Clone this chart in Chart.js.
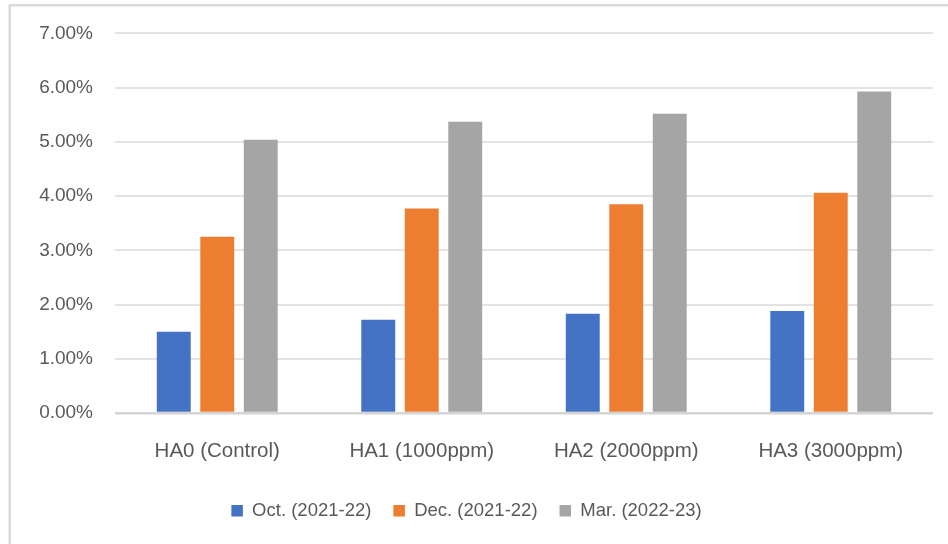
<!DOCTYPE html>
<html>
<head>
<meta charset="utf-8">
<script src="https://cdn.jsdelivr.net/npm/chart.js@4/dist/chart.umd.min.js"></script>
<style>
  html, body { margin: 0; padding: 0; background: #ffffff; overflow: hidden; }
  #wrap { position: absolute; left: 0; top: 0; width: 948px; height: 544px; }
</style>
</head>
<body>
<div id="wrap"><canvas id="c" width="948" height="544"></canvas></div>
<script>
const categories = ["HA0 (Control)", "HA1 (1000ppm)", "HA2 (2000ppm)", "HA3 (3000ppm)"];
const seriesNames = ["Oct. (2021-22)", "Dec. (2021-22)", "Mar. (2022-23)"];
const octValues = [1.50, 1.72, 1.83, 1.88];
const decValues = [3.25, 3.77, 3.85, 4.06];
const marValues = [5.04, 5.37, 5.52, 5.93];
const tickLabels = ["0.00%", "1.00%", "2.00%", "3.00%", "4.00%", "5.00%", "6.00%", "7.00%"];

const seriesColors = ["#4472C4", "#ED7D31", "#A5A5A5"];
const textColor = "#595959";
const fontFamily = "'Liberation Sans', Arial, sans-serif";

const borderPlugin = {
  id: 'outerBorder',
  beforeDraw(chart) {
    const ctx = chart.ctx;
    ctx.save();
    ctx.fillStyle = '#ffffff';
    ctx.fillRect(0, 0, chart.width, chart.height);
    ctx.strokeStyle = '#d9d9d9';
    ctx.lineWidth = 2.5;
    ctx.strokeRect(9.75, 5.25, 2000, 2000);
    ctx.restore();
  }
};

new Chart(document.getElementById('c'), {
  type: 'bar',
  data: {
    labels: categories,
    datasets: [
      { label: seriesNames[0], data: octValues, backgroundColor: seriesColors[0] },
      { label: seriesNames[1], data: decValues, backgroundColor: seriesColors[1] },
      { label: seriesNames[2], data: marValues, backgroundColor: seriesColors[2] }
    ]
  },
  options: {
    responsive: false,
    animation: false,
    devicePixelRatio: 1,
    layout: { padding: { left: 0, right: 15, top: 29, bottom: 14 } },
    datasets: {
      bar: { categoryPercentage: 0.638, barPercentage: 0.78 }
    },
    plugins: {
      tooltip: { enabled: false },
      legend: {
        position: 'bottom',
        labels: {
          boxWidth: 11.5,
          boxHeight: 11.5,
          padding: 22,
          color: textColor,
          font: { family: fontFamily, size: 18.5 }
        }
      }
    },
    scales: {
      x: {
        grid: { display: false, drawTicks: false },
        border: { display: false },
        ticks: {
          color: textColor,
          padding: 26,
          maxRotation: 0,
          font: { family: fontFamily, size: 20.5 }
        },
        afterFit(scale) { scale.height = 66.5; }
      },
      y: {
        min: 0,
        max: 7,
        ticks: {
          stepSize: 1,
          padding: 22,
          color: textColor,
          font: { family: fontFamily, size: 19 },
          callback: (value, index) => tickLabels[index]
        },
        grid: {
          drawTicks: false,
          color: ctx => ctx.tick && ctx.tick.value === 0 ? '#d4d4d4' : '#e3e3e3',
          lineWidth: ctx => ctx.tick && ctx.tick.value === 0 ? 2.5 : 2
        },
        border: { display: false },
        afterFit(scale) { scale.width = 115; }
      }
    }
  },
  plugins: [borderPlugin]
});
</script>
</body>
</html>
